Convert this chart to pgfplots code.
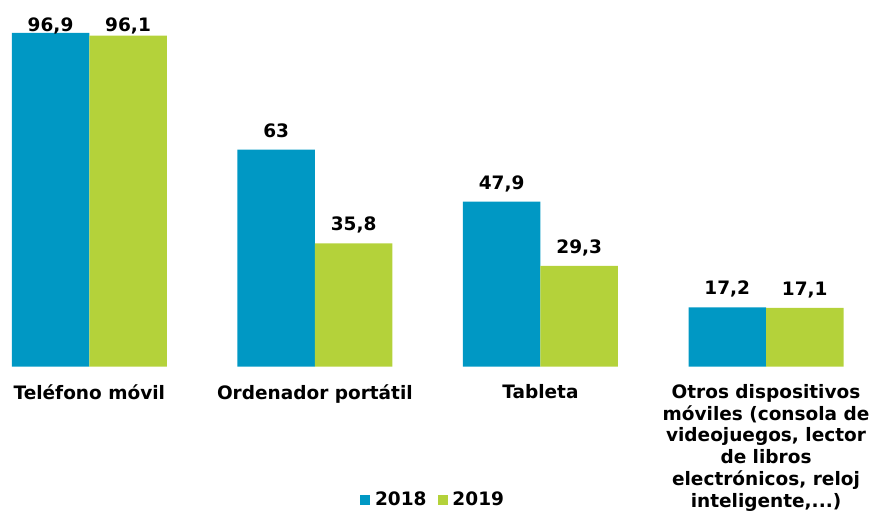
\documentclass[border=0pt]{standalone}
\usepackage{fontspec}
\setmainfont{DejaVu Sans}
\usepackage{pgfplots}
\pgfplotsset{compat=1.18}
\definecolor{c2018}{HTML}{0098C4}
\definecolor{c2019}{HTML}{B4D23A}
\newcommand{\lbl}{\fontsize{18.5}{21.7}\selectfont\bfseries}

\begin{document}
\begin{tikzpicture}
\path[use as bounding box] (0,0) rectangle (872pt,512pt);
\begin{axis}[
    at={(0pt,145.3pt)}, anchor=south west,
    scale only axis, width=872pt, height=344.4pt,
    xmin=-0.3959, xmax=3.4699, ymin=0, ymax=100,
    ybar=0pt, bar width=77.5pt,
    axis line style={draw=none}, tick style={draw=none},
    ytick=\empty,
    xtick={0,1,2,3},
    xticklabels={Teléfono móvil, Ordenador portátil, Tableta,
        {Otros dispositivos\\móviles (consola de\\videojuegos, lector\\de libros\\electrónicos, reloj\\inteligente,.{}.{}.)}},
    xticklabel style={font=\lbl, align=center, anchor=north, inner sep=0pt, yshift=-13.3pt},
    nodes near coords={\pgfmathprintnumber[assume math mode=true,use comma,fixed,precision=1]{\pgfplotspointmeta}},
    visualization depends on={rawy \as \ry},
    every node near coord/.append style={font=\lbl, anchor=base, inner sep=0pt,
        yshift={min(12.6,(97.47-\ry)*3.444)}},
    clip=false,
    legend style={at={(0.4954,-0.4065)}, anchor=south, draw=none, fill=none,
        inner sep=0pt, outer sep=0pt, font=\lbl, legend columns=-1,
        nodes={inner sep=0pt},
        /tikz/every odd column/.append style={column sep=5pt},
        /tikz/every even column/.append style={column sep=11pt}},
]
\addplot[fill=c2018, draw=none,
    legend image code/.code={\fill[c2018] (0pt,-6pt) rectangle (10pt,4pt);}]
    coordinates {(0,96.9) (1,63) (2,47.9) (3,17.2)};
\addplot[fill=c2019, draw=none,
    legend image code/.code={\fill[c2019] (0pt,-6pt) rectangle (10pt,4pt);}]
    coordinates {(0,96.1) (1,35.8) (2,29.3) (3,17.1)};
\legend{2018, 2019}
\end{axis}
\end{tikzpicture}
\end{document}
